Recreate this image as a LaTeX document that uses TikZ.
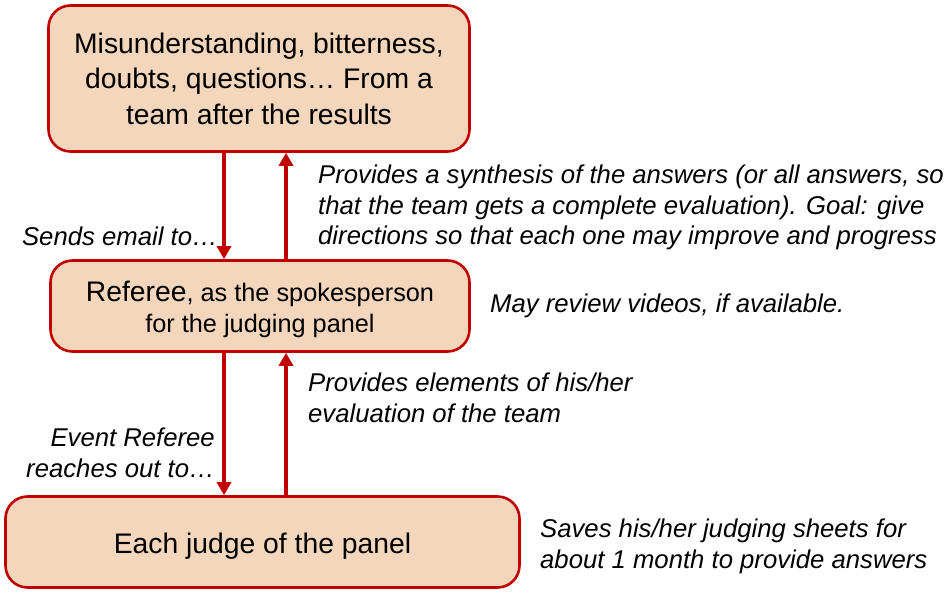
\documentclass[tikz,border=0pt]{standalone}
\usepackage{fontspec}
\setmainfont{Liberation Sans}
\usetikzlibrary{arrows.meta}
\definecolor{boxfill}{HTML}{F3D6BC}
\definecolor{boxline}{HTML}{C00000}
\begin{document}
\begin{tikzpicture}[x=1pt,y=-1pt,
  box/.style={draw=boxline,fill=boxfill,line width=2.6pt,rounded corners=22pt,
    align=center,inner sep=0pt},
  conn/.style={draw=boxline,line width=3.6pt,-{Triangle[width=14pt,length=13pt]}},
  lbl/.style={inner sep=0pt,font=\fontsize{25.7}{30.5}\selectfont\itshape}]
\useasboundingbox (0,0) rectangle (946,596);
\node[box,minimum width=421pt,minimum height=146pt,
  font=\fontsize{28.3}{35.5}\selectfont] (top) at (259,78.5)
  {Misunderstanding, bitterness,\\doubts, questions… From a\\team after the results};
\node[box,minimum width=419pt,minimum height=91pt,
  font=\fontsize{25.3}{31}\selectfont] (mid) at (260,306)
  {\rule{0pt}{28pt}{\fontsize{28.3}{31}\selectfont Referee}, as the spokesperson\\for the judging panel};
\node[box,minimum width=514pt,minimum height=91pt,
  font=\fontsize{28.3}{33}\selectfont] (bot) at (262.5,542)
  {\rule{0pt}{29pt}Each judge of the panel};
\coordinate (xa) at (224,0);
\coordinate (xb) at (286,0);
\draw[conn] (top.south -| xa) -- (mid.north -| xa);
\draw[conn] (mid.north -| xb) -- (top.south -| xb);
\draw[conn] (mid.south -| xa) -- (bot.north -| xa);
\draw[conn] (bot.north -| xb) -- (mid.south -| xb);
\node[lbl,anchor=north west,align=left] (l1) at (318,165)
  {Provides a synthesis of the answers (or all answers, so\\that the team gets a complete evaluation). Goal: give\\directions so that each one may improve and progress};
\node[lbl,anchor=north east,align=right] (l2) at (218,227) {Sends email to…};
\node[lbl,anchor=north west,align=left] (l3) at (490,294) {May review videos, if available.};
\node[lbl,anchor=north west,align=left] (l4) at (308,373)
  {Provides elements of his/her\\evaluation of the team};
\node[lbl,anchor=north east,align=right] (l5) at (215,428)
  {Event Referee\\reaches out to…};
\node[lbl,anchor=north west,align=left] (l6) at (540,519)
  {Saves his/her judging sheets for\\about 1 month to provide answers};
\end{tikzpicture}
\end{document}
